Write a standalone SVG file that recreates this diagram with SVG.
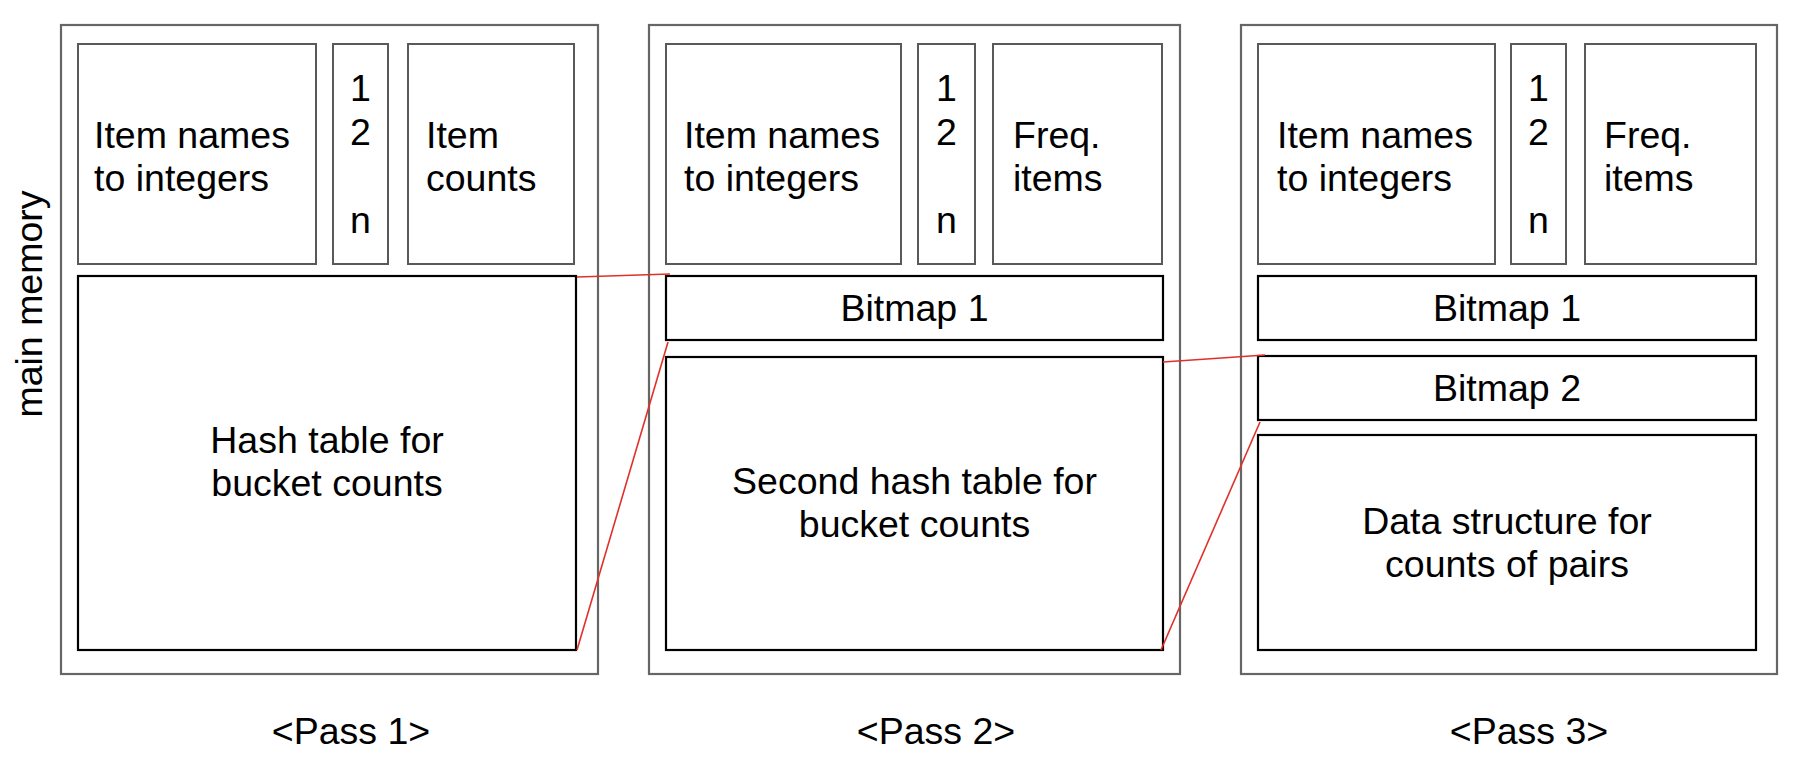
<svg xmlns="http://www.w3.org/2000/svg" width="1800" height="766" viewBox="0 0 1800 766">
<style>
.frame{fill:none;stroke:#666;stroke-width:2.2}
.gbox{fill:#fff;stroke:#595959;stroke-width:2}
.bbox{fill:#fff;stroke:#000;stroke-width:2.2}
.red{fill:none;stroke:#e0302a;stroke-width:1.6}
text{font-family:"Liberation Sans",Arial,sans-serif;font-size:37.5px;fill:#000}
.c{text-anchor:middle}
</style>
<rect width="1800" height="766" fill="#fff"/>
<text id="ylabel" class="c" transform="translate(42,304) rotate(-90)">main memory</text>

<g id="pass1">
<rect class="frame" x="61" y="25" width="537" height="649"/>
<g id="p1-names"><rect class="gbox" x="78" y="44" width="238" height="220"/><text x="94" y="148">Item names</text><text x="94" y="191">to integers</text></g>
<g id="p1-idx"><rect class="gbox" x="333" y="44" width="55" height="220"/><text class="c" x="360.5" y="101">1</text><text class="c" x="360.5" y="145">2</text><text class="c" x="360.5" y="233">n</text></g>
<g id="p1-counts"><rect class="gbox" x="408" y="44" width="166" height="220"/><text x="426" y="148">Item</text><text x="426" y="191">counts</text></g>
<g id="p1-hash"><rect class="bbox" x="78" y="276" width="498" height="374"/><text class="c" x="327" y="453">Hash table for</text><text class="c" x="327" y="496">bucket counts</text></g>
<text id="p1-label" class="c" x="351" y="744">&lt;Pass 1&gt;</text>
</g>

<g id="pass2">
<rect class="frame" x="649" y="25" width="531" height="649"/>
<g id="p2-names"><rect class="gbox" x="666" y="44" width="235" height="220"/><text x="684" y="148">Item names</text><text x="684" y="191">to integers</text></g>
<g id="p2-idx"><rect class="gbox" x="918" y="44" width="57" height="220"/><text class="c" x="946.5" y="101">1</text><text class="c" x="946.5" y="145">2</text><text class="c" x="946.5" y="233">n</text></g>
<g id="p2-freq"><rect class="gbox" x="993" y="44" width="169" height="220"/><text x="1013" y="148">Freq.</text><text x="1013" y="191">items</text></g>
<g id="p2-bitmap1"><rect class="bbox" x="666" y="276" width="497" height="64"/><text class="c" x="914.5" y="321">Bitmap 1</text></g>
<g id="p2-hash"><rect class="bbox" x="666" y="357" width="497" height="293"/><text class="c" x="914.5" y="494">Second hash table for</text><text class="c" x="914.5" y="537">bucket counts</text></g>
<text id="p2-label" class="c" x="936" y="744">&lt;Pass 2&gt;</text>
</g>

<g id="pass3">
<rect class="frame" x="1241" y="25" width="536" height="649"/>
<g id="p3-names"><rect class="gbox" x="1258" y="44" width="237" height="220"/><text x="1277" y="148">Item names</text><text x="1277" y="191">to integers</text></g>
<g id="p3-idx"><rect class="gbox" x="1511" y="44" width="55" height="220"/><text class="c" x="1538.5" y="101">1</text><text class="c" x="1538.5" y="145">2</text><text class="c" x="1538.5" y="233">n</text></g>
<g id="p3-freq"><rect class="gbox" x="1585" y="44" width="171" height="220"/><text x="1604" y="148">Freq.</text><text x="1604" y="191">items</text></g>
<g id="p3-bitmap1"><rect class="bbox" x="1258" y="276" width="498" height="64"/><text class="c" x="1507" y="321">Bitmap 1</text></g>
<g id="p3-bitmap2"><rect class="bbox" x="1258" y="356" width="498" height="64"/><text class="c" x="1507" y="401">Bitmap 2</text></g>
<g id="p3-data"><rect class="bbox" x="1258" y="435" width="498" height="215"/><text class="c" x="1507" y="534">Data structure for</text><text class="c" x="1507" y="577">counts of pairs</text></g>
<text id="p3-label" class="c" x="1529" y="744">&lt;Pass 3&gt;</text>
</g>

<g id="connectors">
<line class="red" x1="577" y1="277" x2="670" y2="274"/>
<line class="red" x1="577" y1="650" x2="668" y2="342"/>
<line class="red" x1="1163" y1="362" x2="1265" y2="355"/>
<line class="red" x1="1161" y1="650" x2="1260" y2="422"/>
</g>
</svg>
